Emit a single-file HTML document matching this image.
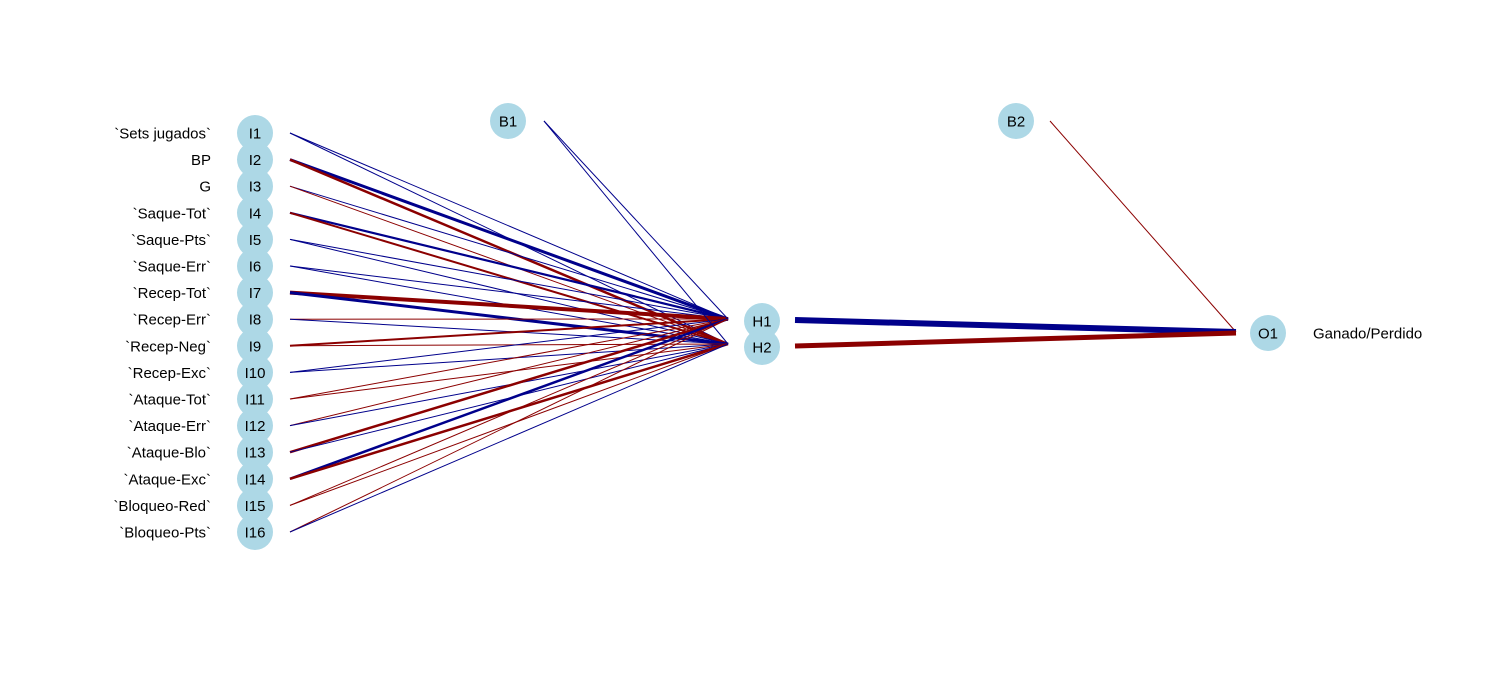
<!DOCTYPE html>
<html><head><meta charset="utf-8"><style>
body{margin:0;background:#fff}
svg{display:block;font-family:"Liberation Sans",sans-serif}
</style></head><body>
<svg id="net" width="1487" height="686"></svg>
<script>
const inputNames=["`Sets jugados`","BP","G","`Saque-Tot`","`Saque-Pts`","`Saque-Err`","`Recep-Tot`","`Recep-Err`","`Recep-Neg`","`Recep-Exc`","`Ataque-Tot`","`Ataque-Err`","`Ataque-Blo`","`Ataque-Exc`","`Bloqueo-Red`","`Bloqueo-Pts`"];
const wH1=[-1,-3,-1,-2.2,-1,-1,4,1,2,-1,1,1,2.5,-2.5,1,1];
const wH2=[-1,2.5,1,2,-1,-1,-3,-1,1,-1,1,-1,-1,2.5,1,-1];
const wB1=[-1,-1];
const wB2=[1];
const wOut=[-6,5];
const NS="http://www.w3.org/2000/svg";
const svg=document.getElementById('net');
function col(w){return w<0?'#00008B':'#8B0000';}
function line(x1,y1,x2,y2,w,name){const l=document.createElementNS(NS,'line');
l.setAttribute('x1',x1);l.setAttribute('y1',y1);l.setAttribute('x2',x2);l.setAttribute('y2',y2);
l.setAttribute('stroke',col(w));l.setAttribute('stroke-width',Math.abs(w));


svg.appendChild(l);}
function node(x,y,t,name){const g=document.createElementNS(NS,'g');


const c=document.createElementNS(NS,'circle');c.setAttribute('cx',x);c.setAttribute('cy',y);c.setAttribute('r',18);c.setAttribute('fill','#ADD8E6');g.appendChild(c);
const tx=document.createElementNS(NS,'text');tx.setAttribute('x',x);tx.setAttribute('y',y+5.5);tx.setAttribute('text-anchor','middle');tx.setAttribute('font-size','15');tx.textContent=t;g.appendChild(tx);svg.appendChild(g);}
function label(x,y,t,anchor,name){const tx=document.createElementNS(NS,'text');tx.setAttribute('x',x);tx.setAttribute('y',y+5.5);tx.setAttribute('text-anchor',anchor);tx.setAttribute('font-size','15');tx.textContent=t;


svg.appendChild(tx);}
const iy=i=>133+i*26.6;
const H=[[762,321],[762,346]];
inputNames.forEach((n,i)=>{
 line(290,iy(i),728,H[0][1]-2,wH1[i],'edge-i'+(i+1)+'-h1');
 line(290,iy(i),728,H[1][1]-2,wH2[i],'edge-i'+(i+1)+'-h2');
});
line(544,121,728,H[0][1]-2,wB1[0],'edge-b1-h1');
line(544,121,728,H[1][1]-2,wB1[1],'edge-b1-h2');
line(1050,121,1236,332,wB2[0],'edge-b2-o1');
line(795,320,1236,332,wOut[0],'edge-h1-o1');
line(795,346,1236,333,wOut[1],'edge-h2-o1');
inputNames.forEach((n,i)=>{node(255,iy(i),'I'+(i+1),'input-node-i'+(i+1));label(211,iy(i),n,'end','input-label-'+(i+1));});
node(508,121,'B1','bias-node-b1');
node(1016,121,'B2','bias-node-b2');
node(762,321,'H1','hidden-node-h1');
node(762,347,'H2','hidden-node-h2');
node(1268,333,'O1','output-node-o1');
label(1313,333,'Ganado/Perdido','start','output-label');
</script>
</body></html>
